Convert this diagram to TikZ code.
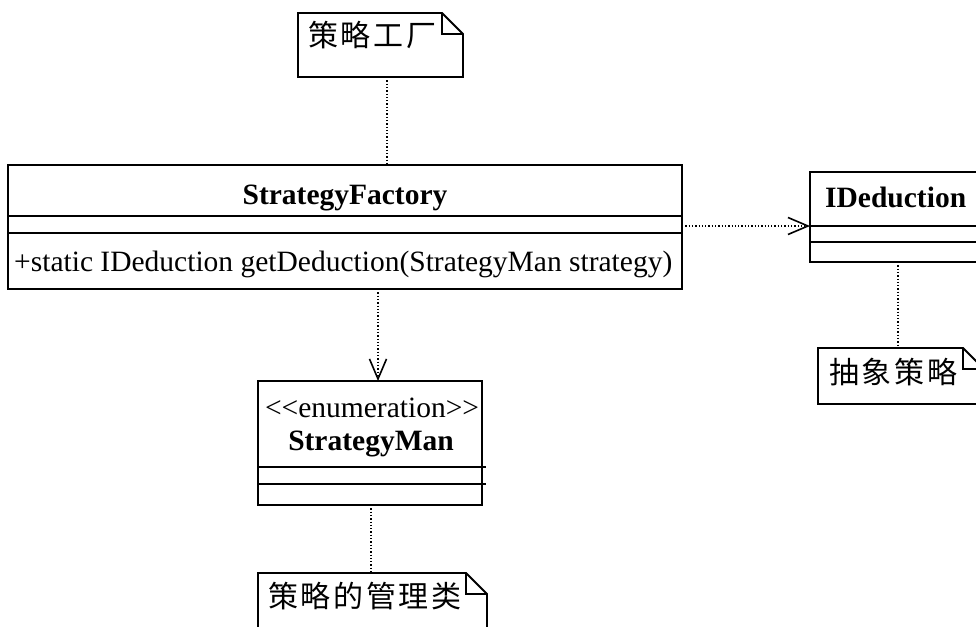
\documentclass[tikz,border=0pt]{standalone}
\usepackage{fontspec}
\setmainfont{Liberation Serif}
\newfontfamily\cjk[LetterSpace=9]{Noto Sans CJK SC}
\usetikzlibrary{arrows.meta}

% folded-corner outline of a UML note, drawn around a named node
\newcommand\drawnote[1]{%
  \draw[noteline] (#1.north west) -- ([xshift=-21pt]#1.north east)
    -- ([yshift=-21pt]#1.north east) -- (#1.south east)
    -- (#1.south west) -- cycle;
  \draw[noteline] ([xshift=-21pt]#1.north east)
    -- ([xshift=-21pt,yshift=-21pt]#1.north east)
    -- ([yshift=-21pt]#1.north east);
}

\begin{document}
\begin{tikzpicture}[x=1pt,y=-1pt,
  classbox/.style={draw, line width=1.8pt, rectangle, inner sep=0pt,
    outer sep=0pt, anchor=north west},
  notebox/.style={rectangle, inner sep=0pt, outer sep=0pt, anchor=north west},
  noteline/.style={line width=1.8pt, line join=miter},
  sep/.style={line width=1.8pt},
  dotline/.style={line width=1.3pt, dash pattern=on 1.3pt off 2pt},
  dep/.style={dotline, -{Straight Barb[length=20pt,width=17pt,line width=1.6pt]}},
  latin/.style={inner sep=0pt, font=\fontsize{29.5}{32}\selectfont},
  title/.style={latin, font=\fontsize{29.5}{32}\selectfont\bfseries},
  cjktext/.style={inner sep=0pt, font=\fontsize{30}{32}\selectfont\cjk, anchor=base west},
]
\useasboundingbox (0,0) rectangle (976,626);
\clip (0,0) rectangle (976,626);

% ---- class StrategyFactory
\node[classbox, minimum width=674pt, minimum height=124pt] (factory) at (8,165) {};
\draw[sep] (factory.west |- 0,216) -- (factory.east |- 0,216);
\draw[sep] (factory.west |- 0,233) -- (factory.east |- 0,233);
\node[title, anchor=base] (factoryname) at (345,204) {StrategyFactory};
\node[latin, anchor=base west] (factoryop) at (14,271)
  {+static IDeduction getDeduction(StrategyMan strategy)};

% ---- interface IDeduction
\node[classbox, minimum width=190pt, minimum height=90pt] (ided) at (810,172) {};
\draw[sep] (ided.west |- 0,226) -- (ided.east |- 0,226);
\draw[sep] (ided.west |- 0,242) -- (ided.east |- 0,242);
\node[title, anchor=base west] (idedname) at (825,207) {IDeduction};

% ---- enumeration StrategyMan
\node[classbox, minimum width=224pt, minimum height=124pt] (sman) at (258,381) {};
\draw[sep] (sman.west |- 0,467) -- ([xshift=4pt]sman.east |- 0,467);
\draw[sep] (sman.west |- 0,484) -- ([xshift=4pt]sman.east |- 0,484);
\node[latin, anchor=base] (smanstereo) at (372,417) {<{}<enumeration>{}>};
\node[title, anchor=base] (smanname) at (371,450) {StrategyMan};

% ---- notes
\node[notebox, minimum width=165pt, minimum height=64pt] (notefactory) at (298,13) {};
\drawnote{notefactory}
\node[cjktext] (notefactorytext) at (308,47) {策略工厂};

\node[notebox, minimum width=166pt, minimum height=56pt] (noteabs) at (818,348) {};
\drawnote{noteabs}
\node[cjktext] (noteabstext) at (829,383) {抽象策略};

\node[notebox, minimum width=229pt, minimum height=70pt] (notemgr) at (258,573) {};
\drawnote{notemgr}
\node[cjktext] (notemgrtext) at (268,607) {策略的管理类};

% ---- note anchors (dotted)
\draw[dotline] (notefactory.south -| 387,0) -- (factory.north -| 387,0);
\draw[dotline] (ided.south -| 898,0) -- (noteabs.north -| 898,0);
\draw[dotline] (sman.south -| 371,0) -- (notemgr.north -| 371,0);

% ---- dependencies
\draw[dep] (factory.east |- 0,226) -- (ided.west |- 0,226);
\draw[dep] (factory.south -| 378,0) -- (sman.north -| 378,0);
\end{tikzpicture}
\end{document}
